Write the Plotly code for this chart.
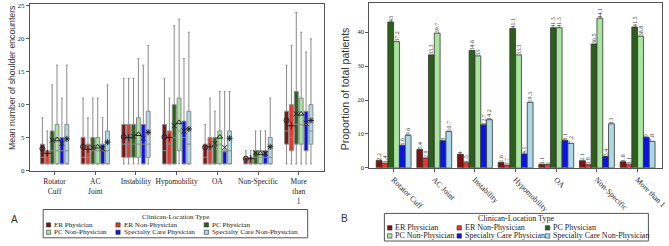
import plotly.graph_objects as go

W, H = 669, 246

categories_a = ["Rotator<br>Cuff", "AC<br>Joint", "Instability", "Hypomobility", "OA", "Non-Specific", "More<br>than<br>1"]
categories_b = ["Rotator Cuff", "AC Joint", "Instability", "Hypomobility", "OA", "Non-Specific", "More than 1"]
groups = ["ER Physician", "ER Non-Physician", "PC Physician", "PC Non-Physician",
          "Specialty Care Physician", "Specialty Care Non-Physician"]
colors = ["#7d1212", "#e8372c", "#2c5f1c", "#a8e6a0", "#0a14e8", "#add8e6"]
mean_symbols = ["circle-open", "cross-thin-open", "x-thin-open", "triangle-up-open", "x-thin-open", "asterisk-open"]

# Panel A: box statistics (rows = groups, columns = categories)
box_lower = [[1, 1, 1, 1, 1, 1, 1]] * 6
box_q1 = [
    [1, 1, 2, 1, 1, 1, 4],
    [1, 1, 2, 1, 1, 1, 3],
    [1, 1, 2, 1, 1, 1, 4],
    [1, 1, 2, 3, 1, 1, 4],
    [1, 1, 1, 1, 1, 1, 3],
    [1, 1, 2, 1, 1, 1, 4],
]
box_median = [
    [2, 2, 4, 3, 2, 1.5, 6],
    [2, 2, 4, 4, 3, 1.5, 5],
    [3, 3, 4, 5, 4, 2, 7],
    [3, 3, 4, 6, 4, 2, 7],
    [3, 3, 4, 5, 3, 2, 7],
    [3, 3, 4, 4, 3, 2, 6],
]
box_q3 = [
    [4, 5, 7, 7, 4, 2, 9],
    [3, 4, 7, 6, 5, 2, 10],
    [6, 5, 7, 10, 5, 3, 12],
    [7, 5, 8, 11, 6, 3, 11],
    [5, 4, 7, 7.5, 3, 3, 9],
    [7, 6, 9, 9, 6, 5, 10],
]
box_upper = [
    [8, 11, 14, 14, 7, 3, 16],
    [6, 8, 14, 11, 11, 3, 19],
    [13, 11, 14, 22, 9, 6, 24],
    [16, 11, 17, 23, 12, 6, 21],
    [11, 8, 16, 17, 12, 6, 18],
    [16, 13, 19, 21, 12, 11, 20],
]
box_mean = [
    [3.3, 3.6, 5.1, 5.1, 3.5, 1.8, 7.6],
    [2.6, 3.2, 5.0, 5.0, 3.6, 1.8, 6.8],
    [4.6, 3.5, 5.2, 6.8, 4.1, 2.7, 8.6],
    [4.7, 3.6, 5.5, 7.3, 5.1, 2.6, 8.6],
    [4.1, 3.3, 4.9, 6.0, 3.5, 2.6, 7.2],
    [4.8, 4.3, 5.8, 6.3, 4.9, 3.6, 7.6],
]

# Panel B: proportions (%)
proportions = [
    [2.2, 5.4, 4, 1.6, 1.1, 2.1, 1.8],
    [1.4, 2.9, 1.5, 0.7, 1, 0.9, 1.1],
    [43, 33.3, 34.6, 41.1, 41.3, 36.5, 41.5],
    [37.2, 39.7, 33, 33.3, 41.3, 44.1, 38.8],
    [6.6, 8, 12.7, 4.1, 8.1, 3.4, 9],
    [9.6, 10.7, 14.2, 19.3, 7.2, 13, 7.8],
]

SERIF = "Liberation Serif"
SANS = "Liberation Sans"
AXC = "#555555"


def px(x):
    return x / W


def py(y):
    return 1 - y / H


fig = go.Figure()

n_cat = len(categories_a)
step = 0.12
for j, g in enumerate(groups):
    off = (j - 2.5) * step
    xs = [i + off for i in range(n_cat)]
    fig.add_trace(go.Box(
        x=xs, q1=box_q1[j], median=box_median[j], q3=box_q3[j],
        lowerfence=box_lower[j], upperfence=box_upper[j],
        width=0.095, fillcolor=colors[j], line=dict(color="#8a8a8a", width=1),
        whiskerwidth=0.5, boxpoints=False, showlegend=False, hoverinfo="skip",
        xaxis="x", yaxis="y"))
    fig.add_trace(go.Scatter(
        x=xs, y=box_mean[j], mode="markers", showlegend=False, hoverinfo="skip",
        marker=dict(symbol=mean_symbols[j], size=5, color="#222222",
                    line=dict(color="#222222", width=1)),
        xaxis="x", yaxis="y"))

for j, g in enumerate(groups):
    fig.add_trace(go.Bar(
        x=categories_b, y=proportions[j], name=g,
        marker=dict(color=colors[j], line=dict(color="#333333", width=0.8)),
        text=[f"{v:g}" for v in proportions[j]], textposition="outside",
        textangle=-90, constraintext="none", cliponaxis=False,
        textfont=dict(family=SERIF, size=6, color="#333333"),
        showlegend=False, hoverinfo="skip", xaxis="x2", yaxis="y2"))

axis_common = dict(showline=True, mirror=True, linecolor=AXC, linewidth=1,
                   ticks="outside", ticklen=3, tickcolor=AXC, showgrid=False,
                   zeroline=False)

fig.update_layout(
    width=W, height=H, margin=dict(l=0, r=0, t=0, b=0),
    paper_bgcolor="white", plot_bgcolor="white",
    boxmode="overlay", barmode="group", bargap=1 / 7, bargroupgap=0,
    xaxis=dict(domain=[px(30), px(326)], range=[-0.61, 6.61], tickmode="array",
               tickvals=list(range(n_cat)), ticktext=categories_a,
               tickfont=dict(family=SERIF, size=7.5, color="#222"), anchor="y",
               **axis_common),
    yaxis=dict(domain=[py(173.5), py(2)], range=[-0.12, 25.3], tickmode="array",
               tickvals=[0, 5, 10, 15, 20, 25],
               tickfont=dict(family=SERIF, size=7, color="#222"), anchor="x",
               **axis_common),
    xaxis2=dict(domain=[px(372), px(667)], range=[-0.6, 6.6], tickangle=45,
                tickfont=dict(family=SERIF, size=8, color="#222"), anchor="y2",
                **axis_common),
    yaxis2=dict(domain=[py(170), py(1)], range=[0, 48.6], tickmode="array",
                tickvals=[0, 10, 20, 30, 40],
                tickfont=dict(family=SERIF, size=6.5, color="#222"), anchor="x2",
                **axis_common),
)

annotations = [
    dict(x=px(12), y=py(77), text="Mean number of shoulder encounters", textangle=-90,
         font=dict(family=SANS, size=8.7, color="#333"), showarrow=False,
         xref="paper", yref="paper", xanchor="center", yanchor="middle"),
    dict(x=px(347), y=py(89), text="Proportion of total patients", textangle=-90,
         font=dict(family=SANS, size=10.5, color="#333"), showarrow=False,
         xref="paper", yref="paper", xanchor="center", yanchor="middle"),
    dict(x=px(15), y=py(223), text="A", font=dict(family=SANS, size=10, color="#333"),
         showarrow=False, xref="paper", yref="paper", xanchor="center", yanchor="middle"),
    dict(x=px(347), y=py(222), text="B", font=dict(family=SANS, size=10, color="#333"),
         showarrow=False, xref="paper", yref="paper", xanchor="center", yanchor="middle"),
]
shapes = []


def add_legend(box, title_y, rows_y, fsize, sq):
    x0, y0, x1, y1 = box
    sq_x = [x0 + 5.4, x0 + 75.4, x0 + 164.4]
    shapes.append(dict(type="rect", xref="paper", yref="paper",
                       x0=px(x0), x1=px(x1), y0=py(y1), y1=py(y0),
                       line=dict(color="#555", width=1), fillcolor="white"))
    annotations.append(dict(x=px((x0 + x1) / 2), y=py(title_y), text="Clinican-Location Type",
                            font=dict(family=SERIF, size=fsize, color="#222"), showarrow=False,
                            xref="paper", yref="paper", xanchor="center", yanchor="middle",
                            borderpad=0))
    for k, g in enumerate(groups):
        r, c = divmod(k, 3)
        cx, cy = sq_x[c], rows_y[r]
        shapes.append(dict(type="rect", xref="paper", yref="paper",
                           x0=px(cx - sq / 2), x1=px(cx + sq / 2),
                           y0=py(cy + sq / 2), y1=py(cy - sq / 2),
                           line=dict(color="#333", width=0.6), fillcolor=colors[k]))
        annotations.append(dict(x=px(cx + sq / 2 + 2.5), y=py(cy), text=g,
                                font=dict(family=SERIF, size=fsize, color="#222"),
                                showarrow=False, xref="paper", yref="paper",
                                xanchor="left", yanchor="middle", borderpad=0))


add_legend((43.5, 212.7, 310, 241.7), 220.3, [228.5, 236.0], 7.1, 4.3)
add_legend((387.3, 216.7, 653.3, 245), 222.3, [231.5, 239.8], 8, 4.5)

fig.update_layout(annotations=annotations, shapes=shapes)
fig.write_html("out.html")
